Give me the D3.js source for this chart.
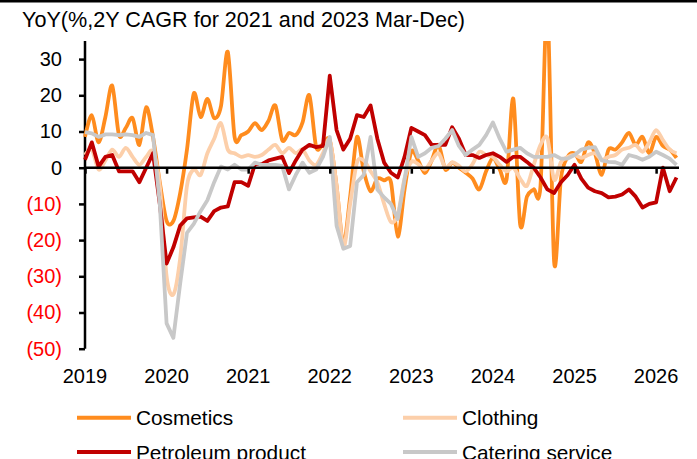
<!DOCTYPE html>
<html><head><meta charset="utf-8">
<script src="https://cdn.jsdelivr.net/npm/d3@7"></script>
<style>
html,body{margin:0;padding:0;background:#fff;}
svg{display:block;font-family:"Liberation Sans",Arial,sans-serif;}
</style></head>
<body><svg id="c" width="697" height="459"></svg>
<script>
const title = "YoY(%,2Y CAGR for 2021 and 2023 Mar-Dec)";
const yearLabels = ["2019","2020","2021","2022","2023","2024","2025","2026"];
const yTicks = [30,20,10,0,-10,-20,-30,-40,-50];
const seriesNames = ["Cosmetics","Clothing","Petroleum product","Catering service"];
const seriesColors = ["#FF8C1E","#FCCFAA","#C00000","#C8C8C8"];

const cosmetics = [8.5,14.5,7,14,22.7,9,11,13.7,6.3,16.7,8.5,-4,
 -14.7,-14.7,-7,5,20.5,14,19,13.7,17,32,8.5,9,
 10,12.3,10.4,13,17.2,7.6,9.6,9,12.5,20,5.7,6.5,
 7.6,-5,-21,-8,8.5,-1,-6.5,-3,-3.5,-4,-19,-6,
 4.5,2,-1.5,2,6.3,-0.5,1.4,0,-1.4,-3,-6,-1,
 2.7,-0.5,-3.3,19,-15.6,-8,-6,-5,45,-26,-3,3,
 4,1.6,7,4,-2,5,5,7,9.6,6.3,8.5,4,
 8.5,6,5,2.7];
const clothing = [3.5,5,-0.5,2,5,3,5.5,3,0.8,3,4.4,-5,
 -30,-35,-25,-5,-0.5,-2,4,8,12.3,5,4,3,
 3.5,3,3.5,5,6.3,4,5.5,4,5,2,0.8,4,
 7.6,-5,-22,-10,1.4,2,-1,-4,-10,-15,-13,-3,
 1.6,1,-0.5,2,4,0,1.5,0.5,-1,1,4.4,3.5,
 3,0.8,-1,0,-3,-5,0.8,6.3,8.2,-3.3,1.6,3,
 3.5,2.7,3.5,4,2.2,3,3.5,5,5.5,6.3,4.4,7,
 10.4,7.6,5,4];
const petroleum = [2.2,7,0.3,3,3.5,-1,-1,-1,-4,0,4,-10,
 -26.5,-22,-16,-14,-13.7,-13.5,-14.7,-12,-11,-10.7,-4,-4,
 -5,1,1,2,2.5,3,-1.5,2,5,6.3,5.7,6,
 25.4,10.4,5,8,14.5,14,17.2,8,1.4,-1.4,-2.7,3,
 11,10,9,6.3,6.3,6.3,11.2,8,3.5,3.5,2.7,3.5,
 4,3,1.6,3,3,1.6,0,-2.7,-6,-7,-4,-2,
 0.8,-3,-5.5,-6.5,-7,-8.2,-8,-7.4,-6,-8,-11,-10,
 -9.6,0,-6.5,-2.7];
const catering = [9.8,9.5,8.5,9.2,9.2,9,9.2,9,8.5,9.6,9,-10,
 -43,-47,-32,-18,-15.5,-12,-9,-4,0.3,-0.5,0.8,-0.5,
 -0.5,1.4,0.8,0.8,0.8,0.5,-6,-2,1.4,-1.4,-0.5,3,
 8.5,-16,-22.4,-21.6,-4,-2,8.5,-6,-8.2,-10,-14.2,-3.3,
 8.5,3,4,5.5,6,8,10.4,6,3.5,5,6.3,9,
 12.5,8,4.4,5,5.5,4,3,3,3,3.5,2.5,2.5,
 3.5,5,5.5,5.7,2,1.6,1.5,0.8,3.5,3,2.2,3,
 4.4,3.5,2.5,0.8];

const allSeries = [cosmetics, clothing, petroleum, catering];
const smooth = [true, true, false, false];

const svg = d3.select("#c");
const x = d3.scaleLinear().domain([0, 87]).range([85, 676.5]);
const y = d3.scaleLinear().domain([-50, 35]).range([348.7, 41]);

// top rule
svg.append("rect").attr("x",0).attr("y",0).attr("width",697).attr("height",2.5).attr("fill","#000");

// title
svg.append("text").attr("x",22).attr("y",27).attr("font-size",21.6).attr("fill","#000").text(title);

// clip
svg.append("defs").append("clipPath").attr("id","pc")
  .append("rect").attr("x",80).attr("y",y(35)).attr("width",610).attr("height",y(-50)-y(35)+2);

// y axis
const yAxis = d3.axisLeft(y).tickValues(yTicks).tickSize(6).tickPadding(17)
  .tickFormat(d => d < 0 ? "(" + Math.abs(d) + ")" : String(d));
const gy = svg.append("g").attr("transform","translate(85,0)").call(yAxis);
gy.select(".domain").attr("stroke","#000").attr("stroke-width",2.5).attr("d","M0," + y(35) + "V" + y(-50));
gy.selectAll(".tick line").attr("stroke","#000").attr("stroke-width",2.5);
gy.selectAll(".tick text").attr("font-size",20).attr("font-family","Liberation Sans, Arial, sans-serif")
  .attr("fill", d => d < 0 ? "#FF0000" : "#000");

// lines
const g = svg.append("g").attr("clip-path","url(#pc)");
allSeries.forEach((s, k) => {
  const line = d3.line().x((d,i) => x(i)).y(d => y(d))
    .curve(smooth[k] ? d3.curveCardinal.tension(0.1) : d3.curveLinear);
  g.append("path").datum(s).attr("d", line).attr("fill","none")
    .attr("stroke", seriesColors[k]).attr("stroke-width",3.8).attr("stroke-linejoin","round");
});

// x axis (at y=0)
const xAxis = d3.axisBottom(x).tickValues(d3.range(0, 88, 12)).tickSize(6).tickFormat(() => "");
const gx = svg.append("g").attr("transform","translate(0," + y(0) + ")").call(xAxis);
gx.select(".domain").attr("stroke","#000").attr("stroke-width",2.5).attr("d","M85,0H679");
gx.selectAll(".tick line").attr("stroke","#000").attr("stroke-width",2.5);
// year labels at bottom
svg.append("g").selectAll("text").data(yearLabels).join("text")
  .attr("x",(d,i) => x(i*12)).attr("y",383).attr("text-anchor","middle")
  .attr("font-size",20).attr("fill","#000").text(d => d);

// legend
const legPos = [[77,417.7],[403,417.7],[77,452],[403,452]];
seriesNames.forEach((n,k) => {
  const [lx, ly] = legPos[k];
  svg.append("line").attr("x1",lx).attr("x2",lx+54).attr("y1",ly).attr("y2",ly)
    .attr("stroke",seriesColors[k]).attr("stroke-width",4);
  svg.append("text").attr("x",lx+59).attr("y",ly+7.5).attr("font-size",20.8).attr("fill","#000").text(n);
});
</script></body></html>
